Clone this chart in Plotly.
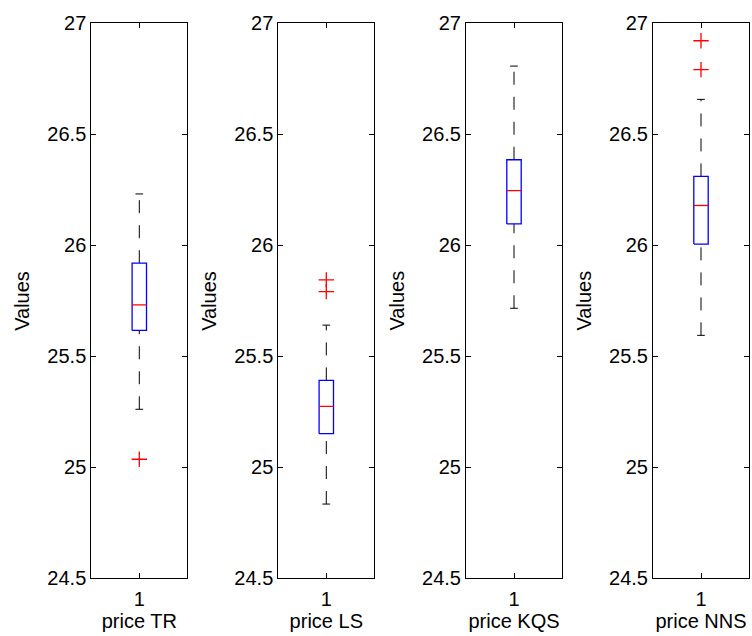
import plotly.graph_objects as go

# ---- data ----
labels = ["price TR", "price LS", "price KQS", "price NNS"]
q1 = [25.615, 25.150, 26.095, 26.004]
median = [25.730, 25.273, 26.245, 26.178]
q3 = [25.918, 25.390, 26.384, 26.309]
lower_whisker = [25.260, 24.833, 25.715, 25.593]
upper_whisker = [26.230, 25.639, 26.806, 26.656]
outliers_tr = [25.035]
outliers_ls = [25.790, 25.843]
outliers_kqs = []
outliers_nns = [26.790, 26.920]
y_ticks = [24.5, 25, 25.5, 26, 26.5, 27]
y_tick_labels = ["24.5", "25", "25.5", "26", "26.5", "27"]

outliers = [outliers_tr, outliers_ls, outliers_kqs, outliers_nns]

W, H = 752, 636
FONT = "Liberation Sans, Arial, sans-serif"
FS = 20
BW = 0.075   # half box width (x units)
CW = 0.04    # half cap width
lefts = [91.3, 278.3, 466.0, 653.0]
pw = 96.0
top_px, bot_px = 23.0, 578.0

fig = go.Figure()
layout = dict(
    width=W, height=H, margin=dict(l=0, r=0, t=0, b=0, autoexpand=False),
    paper_bgcolor="white", plot_bgcolor="white",
    showlegend=False, hovermode=False,
    font=dict(family=FONT, size=FS, color="black"),
    annotations=[],
)

for i in range(4):
    xa = "x" if i == 0 else f"x{i+1}"
    ya = "y" if i == 0 else f"y{i+1}"
    kw = dict(xaxis=xa, yaxis=ya, showlegend=False, hoverinfo="skip")
    dash = dict(color="black", width=1, dash="13px,12px")
    solid = dict(color="black", width=1)
    fig.add_trace(go.Scatter(x=[1, 1], y=[q3[i], upper_whisker[i]], mode="lines", line=dash, **kw))
    fig.add_trace(go.Scatter(x=[1, 1], y=[lower_whisker[i], q1[i]], mode="lines", line=dash, **kw))
    fig.add_trace(go.Scatter(x=[1 - CW, 1 + CW], y=[upper_whisker[i]] * 2, mode="lines", line=solid, **kw))
    fig.add_trace(go.Scatter(x=[1 - CW, 1 + CW], y=[lower_whisker[i]] * 2, mode="lines", line=solid, **kw))
    fig.add_trace(go.Scatter(
        x=[1 - BW, 1 + BW, 1 + BW, 1 - BW, 1 - BW],
        y=[q1[i], q1[i], q3[i], q3[i], q1[i]],
        mode="lines", line=dict(color="#0000ff", width=1.3), **kw))
    fig.add_trace(go.Scatter(x=[1 - BW, 1 + BW], y=[median[i]] * 2, mode="lines",
                             line=dict(color="#ff0000", width=1.3), **kw))
    if outliers[i]:
        fig.add_trace(go.Scatter(
            x=[1] * len(outliers[i]), y=outliers[i], mode="markers",
            marker=dict(symbol="cross-thin", size=11, line=dict(color="#ff0000", width=1.3)),
            **kw))

    xd = [lefts[i] / W, (lefts[i] + pw) / W]
    yd = [1 - bot_px / H, 1 - top_px / H]
    common = dict(showline=True, linecolor="black", linewidth=1, mirror="ticks",
                  ticks="inside", ticklen=5, tickwidth=1, tickcolor="black",
                  showgrid=False, zeroline=False, fixedrange=True, automargin=False,
                  tickfont=dict(family=FONT, size=FS, color="black"))
    xkey = "xaxis" if i == 0 else f"xaxis{i+1}"
    ykey = "yaxis" if i == 0 else f"yaxis{i+1}"
    layout[xkey] = dict(domain=xd, range=[0.5, 1.5], tickmode="array",
                        tickvals=[1], ticktext=["1"], anchor=ya, ticklabelstandoff=3,
                        title=dict(text=labels[i], font=dict(family=FONT, size=FS), standoff=3),
                        **common)
    layout[ykey] = dict(domain=yd, range=[24.5, 27], tickmode="array",
                        tickvals=y_ticks, ticktext=y_tick_labels, anchor=xa,
                        **common)
    layout["annotations"].append(dict(
        text="Values", textangle=-90, xref="paper", yref="paper",
        x=(lefts[i] - 70) / W, y=1 - (top_px + bot_px) / 2 / H,
        xanchor="center", yanchor="middle", showarrow=False,
        font=dict(family=FONT, size=FS, color="black")))

fig.update_layout(**layout)
fig.write_html("out.html", config={"displayModeBar": False, "staticPlot": True},
               post_script="document.body.style.margin='0';document.body.style.overflow='hidden';")
